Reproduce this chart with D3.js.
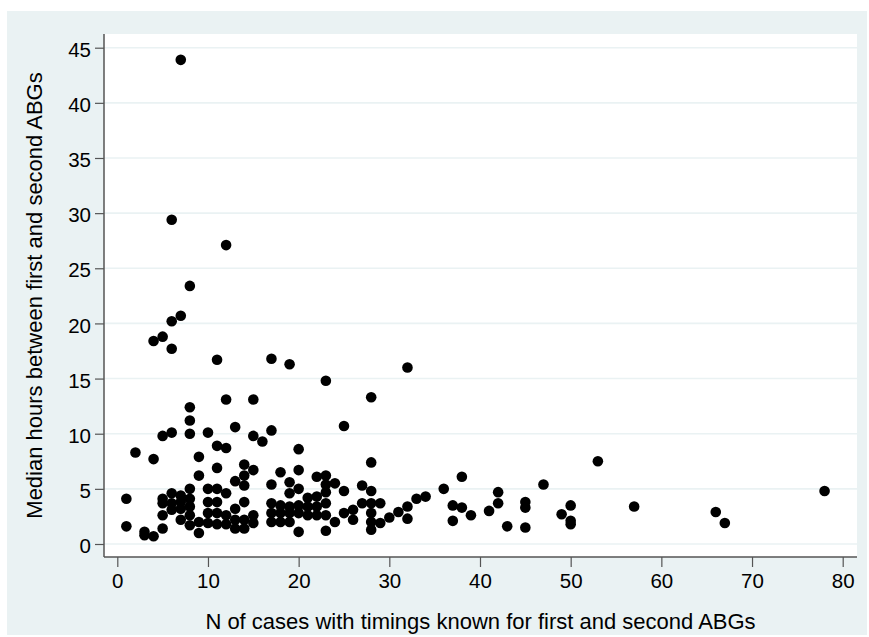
<!DOCTYPE html>
<html>
<head>
<meta charset="utf-8">
<script src="https://cdn.jsdelivr.net/npm/d3@7"></script>
<style>
  html, body { margin: 0; padding: 0; background: #ffffff; }
  svg { display: block; }
  text { font-family: "Liberation Sans", Arial, sans-serif; fill: #000; }
</style>
</head>
<body>
<script>
// Number of cases with known timings (x) per unit
const casesN = [
  7, 6, 12, 8, 7, 6, 5, 4, 6,
  11, 17, 12, 15, 8, 8, 13, 17, 5, 6, 8, 10, 15, 16, 11, 12, 2, 4, 9,
  11, 9, 14, 15, 14, 14, 13, 17, 1, 1, 3, 3, 4,
  5, 5, 5, 5, 6, 6, 6, 7, 7, 7, 7, 8, 8, 8, 8, 8, 9, 9,
  10, 10, 10, 10, 11, 11, 11, 11, 12, 12, 12, 13, 13, 13, 14, 14, 14, 15, 15,
  17, 17, 17,
  19, 32, 23, 28, 25, 20, 28, 18, 20, 19, 22, 23, 24, 23, 23, 25, 27, 28, 36,
  19, 20, 21, 22, 33, 34, 18, 18, 18, 19, 19, 19, 20, 20, 20, 21, 21, 22, 22,
  23, 23, 23, 24, 25, 26, 26, 27, 28, 28, 28, 28, 29, 29, 30, 31, 32, 32, 37, 37,
  38, 38, 39, 41, 42, 42, 43, 45, 45, 45, 47, 49, 50, 50, 50, 53, 57, 66, 67, 78
];

// Median hours between first and second ABGs (y) per unit
const medianHours = [
  43.9, 29.4, 27.1, 23.4, 20.7, 20.2, 18.8, 18.4, 17.7,
  16.7, 16.8, 13.1, 13.1, 12.4, 11.2, 10.6, 10.3, 9.8, 10.1, 10.0, 10.1, 9.8, 9.3, 8.9, 8.7, 8.3, 7.7, 7.9,
  6.9, 6.2, 7.2, 6.7, 6.2, 5.3, 5.7, 5.4, 4.1, 1.6, 1.1, 0.8, 0.7,
  1.4, 2.6, 4.1, 3.7, 4.6, 3.7, 3.1, 4.4, 3.8, 3.2, 2.2, 5.0, 4.1, 3.4, 2.6, 1.7, 2.0, 1.0,
  5.0, 3.8, 2.8, 1.9, 5.0, 3.8, 2.8, 1.8, 4.6, 2.6, 1.8, 3.2, 2.2, 1.4, 3.8, 2.2, 1.4, 2.6, 1.9,
  3.7, 2.8, 2.0,
  16.3, 16.0, 14.8, 13.3, 10.7, 8.6, 7.4, 6.5, 6.7, 5.6, 6.1, 6.2, 5.5, 5.4, 4.7, 4.8, 5.3, 4.8, 5.0,
  4.6, 5.0, 4.2, 4.3, 4.1, 4.3, 3.5, 2.8, 2.0, 3.4, 2.8, 2.0, 3.5, 2.8, 1.1, 3.4, 2.6, 3.4, 2.6,
  3.7, 2.6, 1.2, 2.0, 2.8, 3.1, 2.2, 3.7, 3.7, 2.8, 2.0, 1.3, 3.7, 1.9, 2.4, 2.9, 3.4, 2.3, 3.5, 2.1,
  6.1, 3.3, 2.6, 3.0, 4.7, 3.7, 1.6, 3.8, 3.3, 1.5, 5.4, 2.7, 3.5, 2.1, 1.8, 7.5, 3.4, 2.9, 1.9, 4.8
];

const xTicks = [0, 10, 20, 30, 40, 50, 60, 70, 80];
const yTicks = [0, 5, 10, 15, 20, 25, 30, 35, 40, 45];

const xTitle = "N of cases with timings known for first and second ABGs";
const yTitle = "Median hours between first and second ABGs";

const points = casesN.map((n, i) => ({ n, h: medianHours[i] }));

const W = 869, H = 637;
const plot = { left: 104, right: 857, top: 34, bottom: 557 };

const svg = d3.select("body").append("svg")
  .attr("width", W).attr("height", H);

// outer graph region
svg.append("rect")
  .attr("x", 7).attr("y", 11)
  .attr("width", 860).attr("height", 624)
  .attr("fill", "#eaf2f3");

// plot region
svg.append("rect")
  .attr("x", plot.left).attr("y", plot.top)
  .attr("width", plot.right - plot.left).attr("height", plot.bottom - plot.top)
  .attr("fill", "#ffffff");

const x = d3.scaleLinear().domain([0, 80]).range([117.3, 842.7]);
const y = d3.scaleLinear().domain([0, 45]).range([544, 47.7]);

// horizontal grid lines
svg.append("g").selectAll("line")
  .data(yTicks).join("line")
  .attr("x1", plot.left).attr("x2", plot.right)
  .attr("y1", d => y(d)).attr("y2", d => y(d))
  .attr("stroke", "#eaf2f3").attr("stroke-width", 1.6);

// y axis
const yAxis = svg.append("g")
  .attr("transform", `translate(${plot.left},0)`)
  .call(d3.axisLeft(y).tickValues(yTicks).tickSize(9).tickPadding(4).tickSizeOuter(0));
yAxis.select(".domain").remove();
yAxis.append("line")
  .attr("x1", 0).attr("x2", 0).attr("y1", plot.top).attr("y2", plot.bottom)
  .attr("stroke", "#555").attr("stroke-width", 1.5);
yAxis.selectAll(".tick line").attr("stroke", "#555").attr("stroke-width", 1.2);
yAxis.selectAll(".tick text")
  .style("font-size", "20.5px").attr("fill", "#111").attr("dy", "0.42em");

// x axis
const xAxis = svg.append("g")
  .attr("transform", `translate(0,${plot.bottom})`)
  .call(d3.axisBottom(x).tickValues(xTicks).tickSize(10).tickPadding(6).tickSizeOuter(0));
xAxis.select(".domain").remove();
xAxis.append("line")
  .attr("x1", plot.left).attr("x2", plot.right).attr("y1", 0).attr("y2", 0)
  .attr("stroke", "#555").attr("stroke-width", 1.5);
xAxis.selectAll(".tick line").attr("stroke", "#555").attr("stroke-width", 1.2);
xAxis.selectAll(".tick text")
  .style("font-size", "20.5px").attr("fill", "#111");

// axis titles
svg.append("text")
  .attr("x", (plot.left + plot.right) / 2).attr("y", 629)
  .attr("text-anchor", "middle")
  .style("font-size", "22px")
  .text(xTitle);

svg.append("text")
  .attr("transform", `translate(42,${(plot.top + plot.bottom) / 2}) rotate(-90)`)
  .attr("text-anchor", "middle")
  .style("font-size", "22px")
  .text(yTitle);

// scatter markers
svg.append("g").selectAll("circle")
  .data(points).join("circle")
  .attr("cx", d => x(d.n))
  .attr("cy", d => y(d.h))
  .attr("r", 5.3)
  .attr("fill", "#000");
</script>
</body>
</html>
